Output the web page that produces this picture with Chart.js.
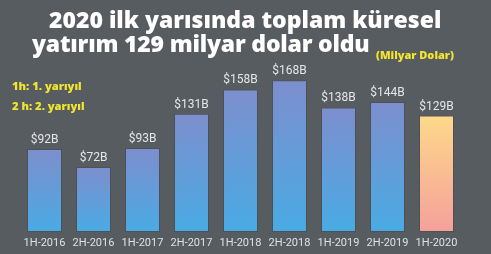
<!DOCTYPE html>
<html><head><meta charset="utf-8">
<script src="https://cdn.jsdelivr.net/npm/chart.js@4.4.1/dist/chart.umd.min.js"></script>
<style>
html,body{margin:0;padding:0;background:#575c61;}
#wrap{position:relative;width:491px;height:254px;overflow:hidden;background:#575c61;}
canvas{position:absolute;left:0;top:0;}
.t{position:absolute;color:#fff;font-family:"Open Sans",sans-serif;font-weight:800;font-size:23px;white-space:nowrap;line-height:1;}
.y{color:#f2e52e;font-family:"Open Sans",sans-serif;font-weight:800;white-space:nowrap;position:absolute;line-height:1;}
</style></head><body>
<div id="wrap">
<canvas id="c" width="491" height="254"></canvas>
<div class="t" id="t1" style="left:49px;top:8px;">2020 ilk yarısında toplam küresel</div>
<div class="t" id="t2" style="left:32px;top:32px;letter-spacing:-0.2px;">yatırım 129 milyar dolar oldu</div>
<div class="y" style="left:376px;top:49px;font-size:11px;">(Milyar Dolar)</div>
<div class="y" style="left:12px;top:80px;font-size:11.2px;">1h: 1. yarıyıl</div>
<div class="y" style="left:12px;top:100px;font-size:11.2px;">2 h: 2. yarıyıl</div>
</div>
<script>
const categories = ["1H-2016","2H-2016","1H-2017","2H-2017","1H-2018","2H-2018","1H-2019","2H-2019","1H-2020"];
const values = [92,72,93,131,158,168,138,144,129];
const valueLabels = ["$92B","$72B","$93B","$131B","$158B","$168B","$138B","$144B","$129B"];

function barFill(ctx){
  const chart = ctx.chart;
  const y = chart.scales && chart.scales.y;
  const last = ctx.dataIndex === values.length - 1;
  if (!y || ctx.type !== 'data') return last ? '#fbc98e' : '#6a9bd8';
  const top = y.getPixelForValue(values[ctx.dataIndex]);
  const bottom = y.getPixelForValue(0);
  if (!isFinite(top) || !isFinite(bottom)) return last ? '#fbc98e' : '#6a9bd8';
  const g = chart.ctx.createLinearGradient(0, top, 0, bottom);
  if (last) { g.addColorStop(0,'#fdd98a'); g.addColorStop(1,'#f5a09b'); }
  else { g.addColorStop(0,'#7d8ecd'); g.addColorStop(1,'#49abe4'); }
  return g;
}

const labelPlugin = {
  id:'vlabels',
  afterDatasetsDraw(chart){
    const c = chart.ctx;
    const meta = chart.getDatasetMeta(0);
    c.save();
    c.font = '12px Roboto';
    c.fillStyle = '#e6e6e6';
    c.textAlign = 'center';
    c.textBaseline = 'middle';
    meta.data.forEach((bar,i)=>{
      c.fillText(valueLabels[i], bar.x, bar.y - 9);
    });
    c.restore();
  }
};

new Chart(document.getElementById('c'), {
  type:'bar',
  data:{labels:categories, datasets:[{data:values, backgroundColor:barFill, borderColor:'rgba(70,75,85,0.6)', borderWidth:1, borderSkipped:false, barPercentage:0.714, categoryPercentage:1}]},
  options:{
    responsive:false, animation:false, devicePixelRatio:1,
    layout:{padding:{left:20,right:30,top:60.5,bottom:0}},
    plugins:{legend:{display:false}, tooltip:{enabled:false}, title:{display:false}},
    scales:{
      x:{grid:{display:false,drawTicks:false}, border:{display:false},
         ticks:{color:'#e0e0e0', font:{family:'Roboto', size:11}, padding:5, maxRotation:0, autoSkip:false},
         afterFit(s){ s.height = 22; }},
      y:{display:false, min:0, max:190}
    }
  },
  plugins:[labelPlugin]
});
</script>
</body></html>
